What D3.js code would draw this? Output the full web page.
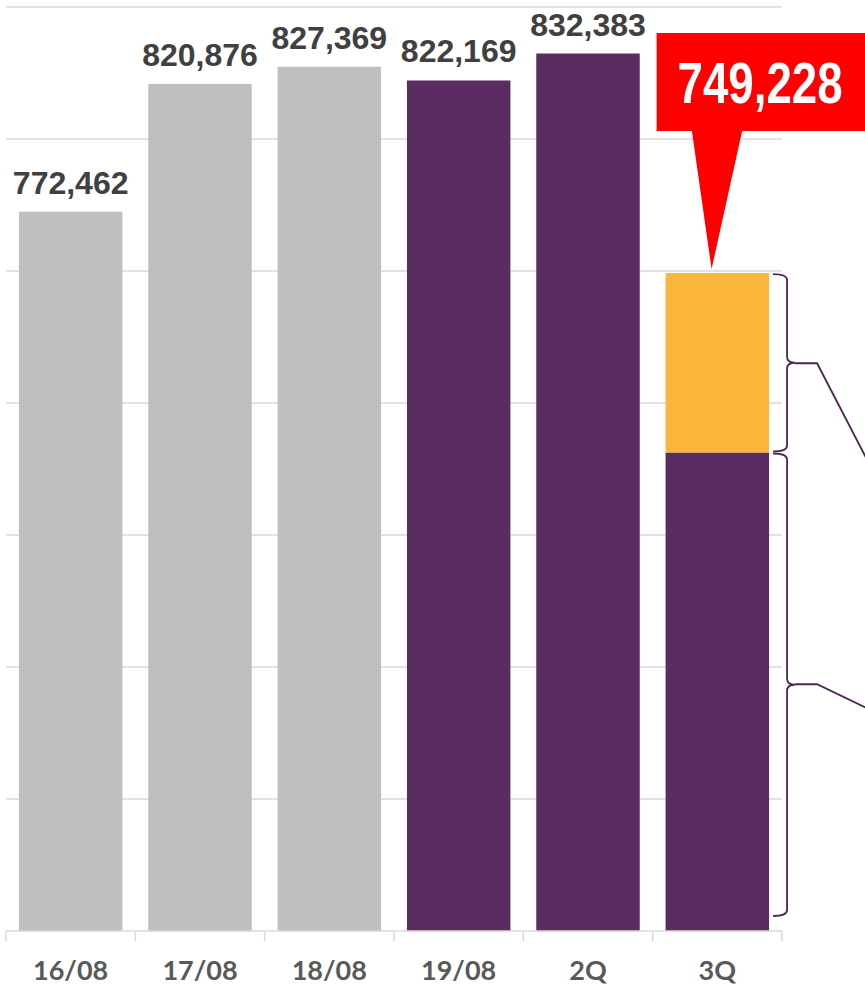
<!DOCTYPE html>
<html>
<head>
<meta charset="utf-8">
<script src="https://cdn.jsdelivr.net/npm/d3@7"></script>
<style>
  html, body { margin: 0; padding: 0; background: #fff; }
  svg { display: block; }
</style>
</head>
<body>
<svg id="chart" width="865" height="985"></svg>
<script>
var categories = ["16/08", "17/08", "18/08", "19/08", "2Q", "3Q"];
var periods = ["past", "past", "past", "current", "current", "current"];
var baseValues = [772462, 820876, 827369, 822169, 832383, 681250];
var extraValues = [0, 0, 0, 0, 0, 67978];
var totalLabels = ["772,462", "820,876", "827,369", "822,169", "832,383", "749,228"];
var yDomain = [500000, 850000];
var gridValues = [550000, 600000, 650000, 700000, 750000, 800000, 850000];

var svg, x, y, color, rows, highlight, hx, bw, tipX, brace;

svg = d3.select("#chart");

x = d3.scaleBand().domain(categories).range([6, 782]).paddingInner(0.2).paddingOuter(0.1);
y = d3.scaleLinear().domain(yDomain).range([931, 7]);
color = d3.scaleOrdinal().domain(["past", "current"]).range(["#bfbfbf", "#5b2c62"]);

rows = categories.map(function(c, i) {
  return {
    cat: c,
    period: periods[i],
    base: baseValues[i],
    extra: extraValues[i],
    total: baseValues[i] + extraValues[i],
    label: totalLabels[i]
  };
});

// gridlines
svg.append("g").selectAll("line").data(gridValues).enter().append("line")
  .attr("x1", 6).attr("x2", 782)
  .attr("y1", function(d) { return y(d); })
  .attr("y2", function(d) { return y(d); })
  .attr("stroke", "#d9d9d9").attr("stroke-width", 1.5);

// bars
svg.append("g").selectAll("rect").data(rows).enter().append("rect")
  .attr("x", function(d) { return x(d.cat); })
  .attr("width", x.bandwidth())
  .attr("y", function(d) { return y(d.base); })
  .attr("height", function(d) { return y(yDomain[0]) - y(d.base); })
  .attr("fill", function(d) { return color(d.period); });

svg.append("g").selectAll("rect").data(rows.filter(function(d) { return d.extra > 0; })).enter().append("rect")
  .attr("x", function(d) { return x(d.cat); })
  .attr("width", x.bandwidth())
  .attr("y", function(d) { return y(d.total); })
  .attr("height", function(d) { return y(d.base) - y(d.total); })
  .attr("fill", "#f9b63b");

// value labels (not for the highlighted one)
svg.append("g").selectAll("text").data(rows.filter(function(d) { return d.extra === 0; })).enter().append("text")
  .attr("x", function(d) { return x(d.cat) + x.bandwidth() / 2; })
  .attr("y", function(d) { return y(d.total) - 18; })
  .attr("text-anchor", "middle")
  .attr("font-family", "'Liberation Sans', Arial, sans-serif")
  .attr("font-weight", "bold")
  .attr("font-size", 32)
  .attr("fill", "#404040")
  .text(function(d) { return d.label; });

// x axis
var axis = svg.append("g").attr("transform", "translate(0," + y(yDomain[0]) + ")")
  .call(d3.axisBottom(x).tickSize(0).tickFormat(""));
axis.select(".domain").remove();
axis.append("line").attr("x1", 6).attr("x2", 782).attr("stroke", "#d9d9d9").attr("stroke-width", 1.5);
var edges = categories.map(function(c) { return x(c) - x.step() * x.paddingInner() / 2; });
edges.push(782);
edges[0] = 6;
axis.selectAll(".edge").data(edges).enter().append("line")
  .attr("class", "edge")
  .attr("x1", function(d) { return d; }).attr("x2", function(d) { return d; })
  .attr("y1", 0).attr("y2", 10)
  .attr("stroke", "#d9d9d9").attr("stroke-width", 1.5);
axis.selectAll(".cat").data(categories).enter().append("text")
  .attr("class", "cat")
  .attr("x", function(d) { return x(d) + x.bandwidth() / 2; })
  .attr("y", 49)
  .attr("text-anchor", "middle")
  .attr("font-family", "Lato, 'Open Sans', sans-serif")
  .attr("font-weight", "bold")
  .attr("font-size", 27)
  .attr("fill", "#595959")
  .text(function(d) { return d; });

// braces on the stacked bar
highlight = rows[rows.length - 1];
hx = x(highlight.cat) + 3;
bw = x.bandwidth();
brace = function(y0, y1) {
  var x0 = hx + bw + 1, xv = x0 + 14, xt = xv + 8, r = 6, ym = (y0 + y1) / 2;
  return "M" + x0 + "," + y0 + " Q" + xv + "," + y0 + " " + xv + "," + (y0 + r) +
    " L" + xv + "," + (ym - r) + " Q" + xv + "," + ym + " " + xt + "," + ym +
    " Q" + xv + "," + ym + " " + xv + "," + (ym + r) +
    " L" + xv + "," + (y1 - r) + " Q" + xv + "," + y1 + " " + x0 + "," + y1;
};
var braceG = svg.append("g").attr("fill", "none").attr("stroke", "#4e2456").attr("stroke-width", 1.8);
var yTop = y(highlight.total) + 1, ySplit = y(highlight.base), yBot = y(yDomain[0]) - 15;
braceG.append("path").attr("d", brace(yTop, ySplit - 1));
braceG.append("path").attr("d", brace(ySplit + 1, yBot));
var m1 = (yTop + ySplit) / 2, m2 = (ySplit + yBot) / 2, bx = hx + bw + 23;
braceG.append("path").attr("d", "M" + bx + "," + m1 + " L" + (bx + 22) + "," + m1 + " L" + (bx + 78) + "," + (m1 + 108));
braceG.append("path").attr("d", "M" + bx + "," + m2 + " L" + (bx + 22) + "," + m2 + " L" + (bx + 78) + "," + (m2 + 27));

// red callout
var boxX = hx - 12, boxY = 33, boxH = 98;
tipX = hx + 43;
svg.append("path")
  .attr("d", "M" + (hx + 23) + "," + (boxY + boxH - 2) + " L" + (hx + 74) + "," + (boxY + boxH - 2) +
    " L" + tipX + "," + (y(highlight.total) - 4) + " Z")
  .attr("fill", "#ff0000");
svg.append("rect").attr("x", boxX).attr("y", boxY).attr("width", 220).attr("height", boxH).attr("fill", "#ff0000");
svg.append("text")
  .attr("x", boxX + 21).attr("y", boxY + 70)
  .attr("font-family", "'Liberation Sans Narrow', 'Liberation Sans', sans-serif")
  .attr("font-weight", "bold")
  .attr("font-size", 57)
  .attr("textLength", 165)
  .attr("lengthAdjust", "spacingAndGlyphs")
  .attr("fill", "#fff")
  .text(highlight.label);
</script>
</body>
</html>
